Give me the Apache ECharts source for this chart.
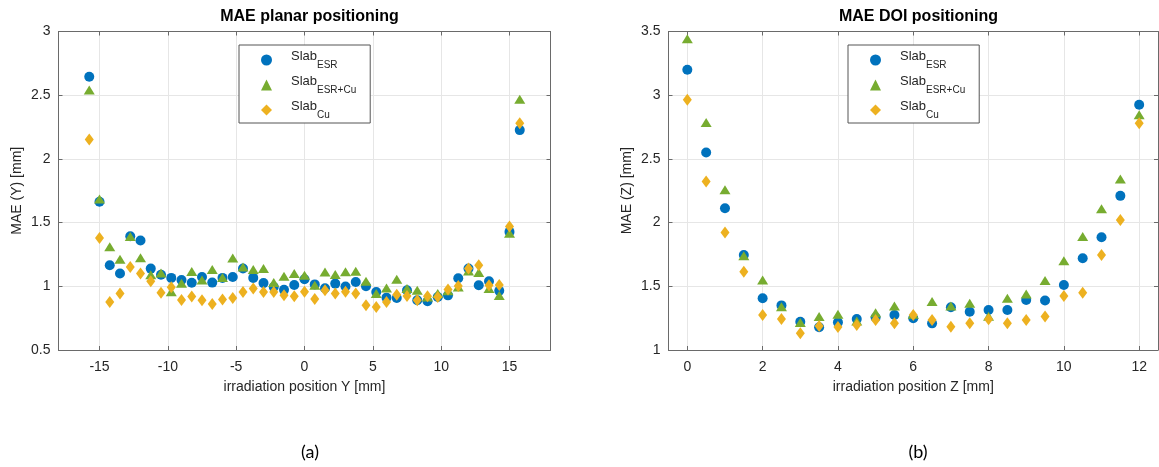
<!DOCTYPE html>
<html>
<head>
<meta charset="utf-8">
<script src="https://cdn.jsdelivr.net/npm/echarts@6/dist/echarts.min.js"></script>
<style>
  html, body { margin: 0; padding: 0; background: #fff; }
  #chart { width: 1159px; height: 467px; }
</style>
</head>
<body>
<div id="chart"></div>
<script>
// Irradiation positions along Y (planar scan) [mm]
const planarPos = [-15.75, -15, -14.25, -13.5, -12.75, -12, -11.25, -10.5, -9.75, -9, -8.25, -7.5, -6.75, -6, -5.25,
  -4.5, -3.75, -3, -2.25, -1.5, -0.75, 0, 0.75, 1.5, 2.25, 3, 3.75, 4.5, 5.25, 6, 6.75, 7.5, 8.25, 9, 9.75,
  10.5, 11.25, 12, 12.75, 13.5, 14.25, 15, 15.75];

// MAE (Y) [mm] per slab configuration
const planarESR = [2.645, 1.663, 1.165, 1.10, 1.393, 1.36, 1.139, 1.09, 1.066, 1.05, 1.028, 1.073, 1.029, 1.066, 1.073,
  1.14, 1.066, 1.025, 0.995, 0.972, 1.01, 1.056, 1.015, 0.985, 1.021, 0.998, 1.034, 1.0, 0.955, 0.911, 0.908,
  0.969, 0.89, 0.882, 0.916, 0.929, 1.063, 1.139, 1.008, 1.04, 0.965, 1.427, 2.226];
const planarESRCu = [2.54, 1.686, 1.31, 1.212, 1.39, 1.225, 1.09, 1.105, 0.958, 1.024, 1.116, 1.05, 1.131, 1.07, 1.222,
  1.152, 1.132, 1.139, 1.03, 1.079, 1.10, 1.086, 1.008, 1.113, 1.092, 1.115, 1.118, 1.039, 0.943, 0.987, 1.055,
  0.982, 0.969, 0.916, 0.943, 0.965, 0.995, 1.12, 1.108, 0.982, 0.927, 1.417, 2.468];
const planarCu = [2.153, 1.38, 0.877, 0.943, 1.152, 1.10, 1.04, 0.95, 0.993, 0.892, 0.92, 0.89, 0.861, 0.897, 0.908,
  0.955, 0.982, 0.955, 0.955, 0.929, 0.921, 0.958, 0.9, 0.969, 0.943, 0.958, 0.943, 0.851, 0.837, 0.877, 0.934,
  0.924, 0.89, 0.921, 0.916, 0.975, 1.003, 1.139, 1.165, 1.008, 1.01, 1.47, 2.279];

// Irradiation positions along Z (DOI scan) [mm]
const doiPos = [0, 0.5, 1, 1.5, 2, 2.5, 3, 3.5, 4, 4.5, 5, 5.5, 6, 6.5, 7, 7.5, 8, 8.5, 9, 9.5, 10, 10.5, 11, 11.5, 12];

// MAE (Z) [mm] per slab configuration
const doiESR = [3.20, 2.55, 2.113, 1.746, 1.406, 1.35, 1.222, 1.178, 1.217, 1.244, 1.255, 1.275, 1.249, 1.209, 1.335,
  1.30, 1.314, 1.314, 1.393, 1.388, 1.51, 1.72, 1.885, 2.21, 2.925];
const doiESRCu = [3.443, 2.786, 2.257, 1.74, 1.55, 1.34, 1.215, 1.262, 1.28, 1.228, 1.293, 1.346, 1.28, 1.38, 1.346,
  1.367, 1.265, 1.406, 1.44, 1.545, 1.70, 1.89, 2.108, 2.343, 2.846];
const doiCu = [2.964, 2.322, 1.922, 1.615, 1.275, 1.244, 1.131, 1.189, 1.18, 1.196, 1.235, 1.209, 1.275, 1.236, 1.183,
  1.209, 1.241, 1.209, 1.236, 1.262, 1.424, 1.45, 1.746, 2.021, 2.78];

// Tick positions on the x axes
const planarTicks = [-15, -10, -5, 0, 5, 10, 15];
const doiTicks = [0, 2, 4, 6, 8, 10, 12];

// Legend labels: base text plus subscript
const seriesNames = ['SlabESR', 'SlabESR+Cu', 'SlabCu'];
const subscripts = { 'SlabESR': 'ESR', 'SlabESR+Cu': 'ESR+Cu', 'SlabCu': 'Cu' };

const FONT = 'Liberation Sans';
const TXT = '#262626';
const FRAME = '#6a6a6a';
const GRIDLINE = '#e6e6e6';

const styles = [
  { color: '#0072BD', symbol: 'circle', size: 10 },
  { color: '#77AC30', symbol: 'triangle', size: [11, 9] },
  { color: '#EDB120', symbol: 'diamond', size: [9, 12] }
];

function zip(xs, ys) { return xs.map((x, i) => [x, ys[i]]); }

function mainX(gridIndex, min, max, ticks, name) {
  return {
    type: 'value', gridIndex, min, max, position: 'bottom',
    name, nameLocation: 'middle', nameGap: 30,
    nameTextStyle: { fontFamily: FONT, fontSize: 14, color: TXT },
    axisLine: { show: true, onZero: false, lineStyle: { color: FRAME, width: 1 } },
    axisTick: { show: true, inside: true, length: 4, customValues: ticks, lineStyle: { color: FRAME } },
    axisLabel: { fontFamily: FONT, fontSize: 14, color: TXT, margin: 10, customValues: ticks },
    splitLine: { show: true, lineStyle: { color: GRIDLINE, width: 1 } }
  };
}
function mirrorX(gridIndex, min, max, ticks) {
  return {
    type: 'value', gridIndex, min, max, position: 'top',
    axisLine: { show: true, onZero: false, lineStyle: { color: FRAME, width: 1 } },
    axisTick: { show: true, inside: true, length: 4, customValues: ticks, lineStyle: { color: FRAME } },
    axisLabel: { show: false }, splitLine: { show: false }
  };
}
function mainY(gridIndex, min, max, interval, name) {
  return {
    type: 'value', gridIndex, min, max, interval, position: 'left',
    name, nameLocation: 'middle', nameGap: 34,
    nameTextStyle: { fontFamily: FONT, fontSize: 14, color: TXT },
    axisLine: { show: true, onZero: false, lineStyle: { color: FRAME, width: 1 } },
    axisTick: { show: true, inside: true, length: 4, lineStyle: { color: FRAME } },
    axisLabel: { fontFamily: FONT, fontSize: 14, color: TXT, margin: 8 },
    splitLine: { show: true, lineStyle: { color: GRIDLINE, width: 1 } }
  };
}
function mirrorY(gridIndex, min, max, interval) {
  return {
    type: 'value', gridIndex, min, max, interval, position: 'right',
    axisLine: { show: true, onZero: false, lineStyle: { color: FRAME, width: 1 } },
    axisTick: { show: true, inside: true, length: 4, lineStyle: { color: FRAME } },
    axisLabel: { show: false }, splitLine: { show: false }
  };
}

function scatter(name, idx, xIdx, yIdx, data) {
  const s = styles[idx];
  return {
    type: 'scatter', name, xAxisIndex: xIdx, yAxisIndex: yIdx,
    data, symbol: s.symbol, symbolSize: s.size,
    itemStyle: { color: s.color, opacity: 1 },
    emphasis: { disabled: true }, animation: false
  };
}

function legendAt(left) {
  return {
    show: true, data: seriesNames, orient: 'vertical',
    left, top: 45, width: 131,
    padding: [5, 14, 3, 22],
    itemGap: 5, itemWidth: 11, itemHeight: 11,
    borderColor: '#555', borderWidth: 1, backgroundColor: '#fff',
    selectedMode: false,
    formatter: n => '{b|Slab}{s|' + subscripts[n] + '}',
    textStyle: {
      fontFamily: FONT, color: TXT, padding: [0, 0, 0, 14],
      rich: {
        b: { fontFamily: FONT, fontSize: 13, color: TXT, lineHeight: 20, verticalAlign: 'top' },
        s: { fontFamily: FONT, fontSize: 10, color: TXT, lineHeight: 20, verticalAlign: 'bottom', padding: [10, 0, 0, 0] }
      }
    }
  };
}

const chart = echarts.init(document.getElementById('chart'), null, { renderer: 'canvas' });
chart.setOption({
  backgroundColor: '#fff',
  animation: false,
  title: [
    { text: 'MAE planar positioning', left: 304.5, top: 4, textAlign: 'center',
      textStyle: { fontFamily: FONT, fontSize: 16, fontWeight: 'bold', color: '#000' } },
    { text: 'MAE DOI positioning', left: 913.5, top: 4, textAlign: 'center',
      textStyle: { fontFamily: FONT, fontSize: 16, fontWeight: 'bold', color: '#000' } },
    { text: '(a)', left: 305, top: 438, textAlign: 'center',
      textStyle: { fontFamily: 'Lato', fontSize: 18, fontWeight: 'normal', color: '#000' } },
    { text: '(b)', left: 913, top: 438, textAlign: 'center',
      textStyle: { fontFamily: 'Lato', fontSize: 18, fontWeight: 'normal', color: '#000' } }
  ],
  legend: [legendAt(239), legendAt(848)],
  grid: [
    { left: 58.5, top: 31.5, width: 492, height: 318.5, containLabel: false },
    { left: 668.5, top: 31.5, width: 489.5, height: 318.5, containLabel: false }
  ],
  xAxis: [
    mainX(0, -18, 18, planarTicks, 'irradiation position Y [mm]'),
    mirrorX(0, -18, 18, planarTicks),
    mainX(1, -0.5, 12.5, doiTicks, 'irradiation position Z [mm]'),
    mirrorX(1, -0.5, 12.5, doiTicks)
  ],
  yAxis: [
    mainY(0, 0.5, 3, 0.5, 'MAE (Y) [mm]'),
    mirrorY(0, 0.5, 3, 0.5),
    mainY(1, 1, 3.5, 0.5, 'MAE (Z) [mm]'),
    mirrorY(1, 1, 3.5, 0.5)
  ],
  series: [
    scatter('SlabESR', 0, 0, 0, zip(planarPos, planarESR)),
    scatter('SlabESR+Cu', 1, 0, 0, zip(planarPos, planarESRCu)),
    scatter('SlabCu', 2, 0, 0, zip(planarPos, planarCu)),
    scatter('SlabESR', 0, 2, 2, zip(doiPos, doiESR)),
    scatter('SlabESR+Cu', 1, 2, 2, zip(doiPos, doiESRCu)),
    scatter('SlabCu', 2, 2, 2, zip(doiPos, doiCu))
  ]
});
</script>
</body>
</html>
